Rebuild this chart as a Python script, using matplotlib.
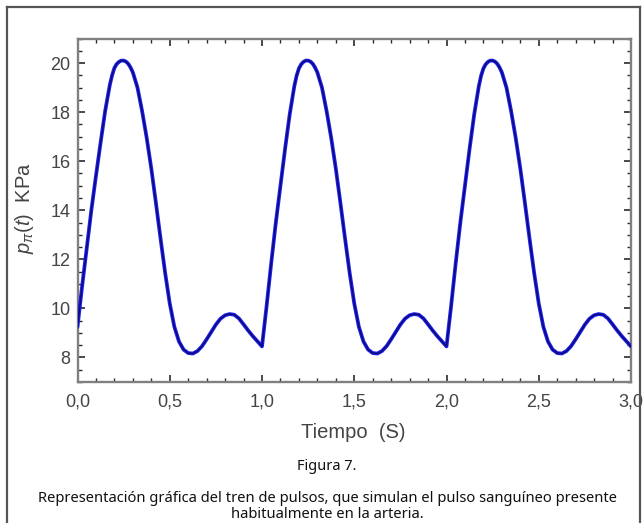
import matplotlib
matplotlib.use("Agg")
import matplotlib.pyplot as plt
from matplotlib.lines import Line2D

# ---- data (one list per pulse) ----
time_pulse_1 = [
    0.000, 0.025, 0.050, 0.075, 0.100, 0.125, 0.150, 0.175, 0.1875, 0.200,
    0.2125, 0.225, 0.2375, 0.250, 0.2625, 0.275, 0.2875, 0.300, 0.325, 0.350,
    0.375, 0.400, 0.425, 0.450, 0.475, 0.500, 0.525, 0.550, 0.575, 0.600,
    0.625, 0.650, 0.675, 0.700, 0.725, 0.750, 0.775, 0.800, 0.825, 0.850,
    0.875, 0.900, 0.925, 0.950, 0.975, 1.000,
]
pressure_pulse_1 = [
    9.25, 10.90, 12.45, 14.00, 15.40, 16.75, 18.05, 19.10, 19.50, 19.80,
    19.96, 20.05, 20.10, 20.10, 20.06, 19.97, 19.82, 19.62, 19.00, 18.05,
    16.95, 15.70, 14.30, 12.85, 11.45, 10.20, 9.25, 8.65, 8.32, 8.18,
    8.16, 8.26, 8.46, 8.74, 9.04, 9.34, 9.58, 9.72, 9.77, 9.74,
    9.59, 9.35, 9.10, 8.87, 8.66, 8.45,
]
time_pulse_2 = [
    1.000, 1.025, 1.050, 1.075, 1.100, 1.125, 1.150, 1.175, 1.1875, 1.200,
    1.2125, 1.225, 1.2375, 1.250, 1.2625, 1.275, 1.2875, 1.300, 1.325, 1.350,
    1.375, 1.400, 1.425, 1.450, 1.475, 1.500, 1.525, 1.550, 1.575, 1.600,
    1.625, 1.650, 1.675, 1.700, 1.725, 1.750, 1.775, 1.800, 1.825, 1.850,
    1.875, 1.900, 1.925, 1.950, 1.975, 2.000,
]
pressure_pulse_2 = [
    8.45, 10.10, 11.85, 13.50, 15.00, 16.50, 17.90, 19.05, 19.48, 19.78,
    19.95, 20.05, 20.10, 20.10, 20.06, 19.97, 19.82, 19.62, 19.00, 18.05,
    16.95, 15.70, 14.30, 12.85, 11.45, 10.20, 9.25, 8.65, 8.32, 8.18,
    8.16, 8.26, 8.46, 8.74, 9.04, 9.34, 9.58, 9.72, 9.77, 9.74,
    9.59, 9.35, 9.10, 8.87, 8.66, 8.45,
]
time_pulse_3 = [
    2.000, 2.025, 2.050, 2.075, 2.100, 2.125, 2.150, 2.175, 2.1875, 2.200,
    2.2125, 2.225, 2.2375, 2.250, 2.2625, 2.275, 2.2875, 2.300, 2.325, 2.350,
    2.375, 2.400, 2.425, 2.450, 2.475, 2.500, 2.525, 2.550, 2.575, 2.600,
    2.625, 2.650, 2.675, 2.700, 2.725, 2.750, 2.775, 2.800, 2.825, 2.850,
    2.875, 2.900, 2.925, 2.950, 2.975, 3.000,
]
pressure_pulse_3 = [
    8.45, 10.10, 11.85, 13.50, 15.00, 16.50, 17.90, 19.05, 19.48, 19.78,
    19.95, 20.05, 20.10, 20.10, 20.06, 19.97, 19.82, 19.62, 19.00, 18.05,
    16.95, 15.70, 14.30, 12.85, 11.45, 10.20, 9.25, 8.65, 8.32, 8.18,
    8.16, 8.26, 8.46, 8.74, 9.04, 9.34, 9.58, 9.72, 9.77, 9.74,
    9.59, 9.35, 9.10, 8.87, 8.66, 8.45,
]

x_ticks = [0.0, 0.5, 1.0, 1.5, 2.0, 2.5, 3.0]
x_tick_labels = ["0,0", "0,5", "1,0", "1,5", "2,0", "2,5", "3,0"]
y_ticks = [8, 10, 12, 14, 16, 18, 20]
y_tick_labels = ["8", "10", "12", "14", "16", "18", "20"]

x_label = "Tiempo  (S)"
y_label = r"$p_{\pi}(t)$  KPa"
fig_title = "Figura 7."
caption_1 = "Representación gráfica del tren de pulsos, que simulan el pulso sanguíneo presente"
caption_2 = "habitualmente en la arteria."

# the curve is one continuous line through the three pulses
time_s = time_pulse_1 + time_pulse_2[1:] + time_pulse_3[1:]
pressure_kpa = pressure_pulse_1 + pressure_pulse_2[1:] + pressure_pulse_3[1:]

# ---- style ----
plt.rcParams["font.family"] = ["Liberation Sans", "DejaVu Sans"]
plt.rcParams["mathtext.fontset"] = "custom"
plt.rcParams["mathtext.rm"] = "Liberation Sans"
plt.rcParams["mathtext.it"] = "Liberation Sans:italic"

W, H = 643, 523
fig = plt.figure(figsize=(W / 100, H / 100), dpi=100)
fig.patch.set_facecolor("white")

ax_l, ax_r, ax_t, ax_b = 77.5, 631.0, 38.5, 382.0
ax = fig.add_axes([ax_l / W, 1 - ax_b / H, (ax_r - ax_l) / W, (ax_b - ax_t) / H])

ax.plot(time_s, pressure_kpa, color="#2020f0", lw=2.7, solid_joinstyle="round",
        solid_capstyle="round", zorder=3)
ax.plot(time_s, pressure_kpa, color="#0a0a78", lw=1.1, solid_joinstyle="round",
        solid_capstyle="round", zorder=4)

ax.set_xlim(0, 3)
ax.set_ylim(7, 21)
ax.set_xticks(x_ticks)
ax.set_xticklabels(x_tick_labels)
ax.set_yticks(y_ticks)
ax.set_yticklabels(y_tick_labels)
ax.set_xticks([i / 10 for i in range(31)], minor=True)
ax.set_yticks([7 + i * 0.5 for i in range(29)], minor=True)

ax.tick_params(which="both", direction="in", top=True, right=True, color="#2a2a2a",
               labelcolor="#444444", labelsize=13)
ax.tick_params(which="major", length=5, width=1.2)
ax.tick_params(which="minor", length=3, width=1.0)
ax.tick_params(axis="x", which="major", pad=8)
ax.tick_params(axis="y", which="major", pad=5)
for s in ax.spines.values():
    s.set_color("#808080")
    s.set_linewidth(1.7)

fig.text(353.5 / W, 1 - 433 / H, x_label, ha="center", va="center", fontsize=14.5, color="#444444")
fig.text(25 / W, 1 - 208 / H, y_label, ha="center", va="center", rotation=90,
         fontsize=14.5, color="#444444")

cap_font = ["Noto Sans", "DejaVu Sans"]
fig.text(327 / W, 1 - 467 / H, fig_title, ha="center", va="center", fontsize=10.5,
         family=cap_font, color="#111111")
fig.text(327.5 / W, 1 - 499 / H, caption_1, ha="center", va="center", fontsize=10.6,
         family=cap_font, color="#111111")
fig.text(327 / W, 1 - 515 / H, caption_2, ha="center", va="center", fontsize=10.6,
         family=cap_font, color="#111111")

# outer frame of the figure box
frame_kw = dict(color="#555555", lw=1.6, transform=fig.transFigure)
fig.add_artist(Line2D([6.5 / W, 6.5 / W], [0, 1 - 7 / H], **frame_kw))
fig.add_artist(Line2D([6.5 / W, 639.5 / W], [1 - 7 / H, 1 - 7 / H], **frame_kw))
fig.add_artist(Line2D([639.5 / W, 639.5 / W], [0, 1 - 7 / H], **frame_kw))

fig.savefig("out.png", dpi=100, facecolor="white")
